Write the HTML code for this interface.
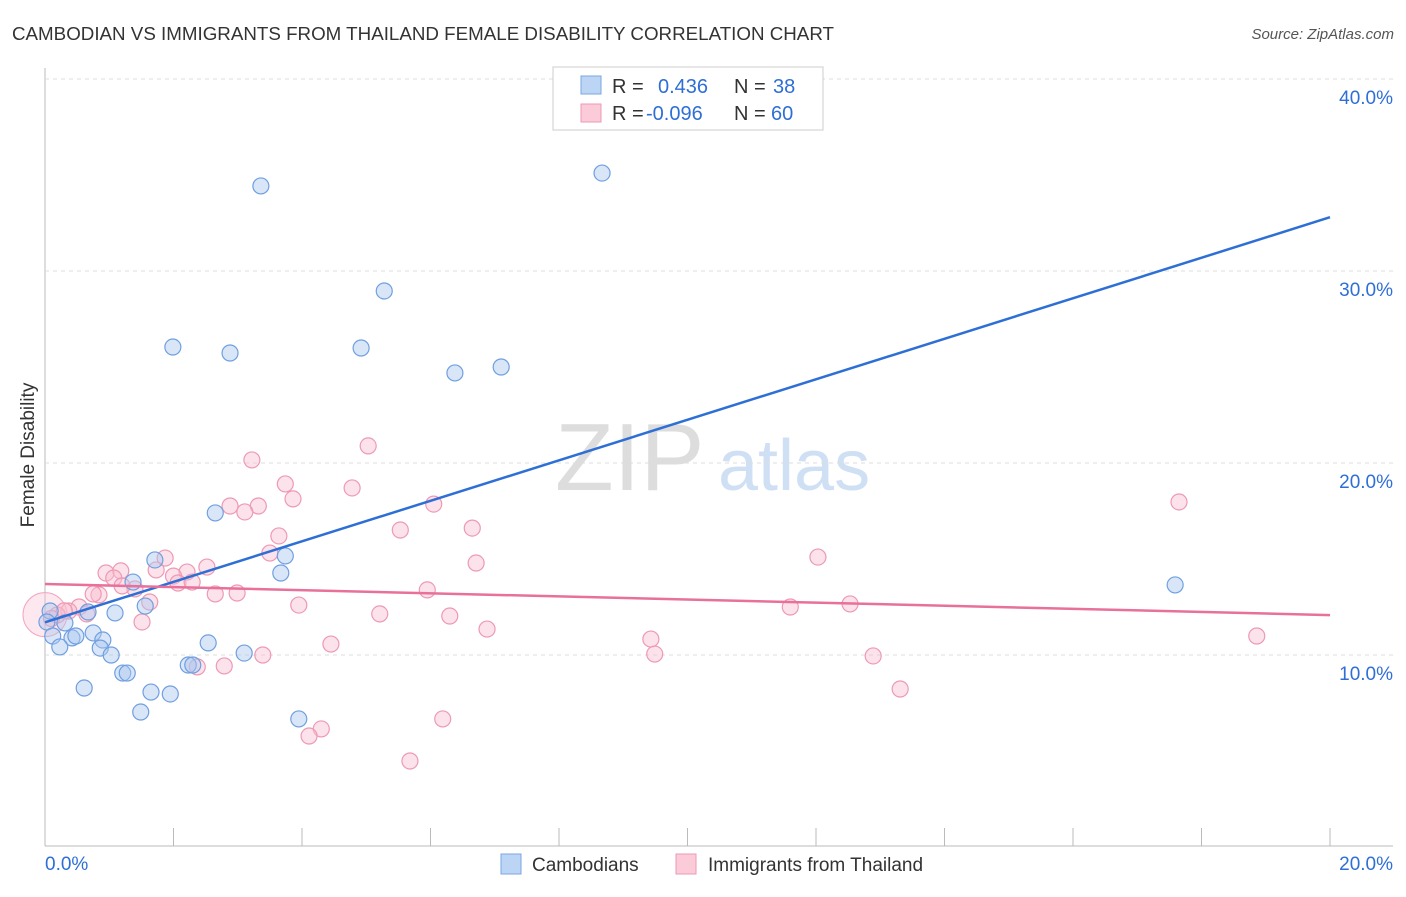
<!DOCTYPE html>
<html><head><meta charset="utf-8"><style>
body{margin:0;background:#fff;font-family:"Liberation Sans",sans-serif;}
svg text{font-family:"Liberation Sans",sans-serif;}
</style></head><body>
<svg id="chart" width="1406" height="892">
<text x="12" y="40" font-size="18" fill="#333" textLength="822" lengthAdjust="spacingAndGlyphs">CAMBODIAN VS IMMIGRANTS FROM THAILAND FEMALE DISABILITY CORRELATION CHART</text>
<text x="1394" y="39" font-size="15" fill="#555" font-style="italic" text-anchor="end">Source: ZipAtlas.com</text>
<text x="34" y="455" font-size="19" fill="#333" text-anchor="middle" transform="rotate(-90 34 455)">Female Disability</text>
<text x="555" y="490" font-size="96" fill="#ddd" font-family="Liberation Serif">ZIP</text>
<text x="718" y="490" font-size="72" fill="#d0e0f4">atlas</text>
<g id="grid"></g><g id="pts"></g><g id="lines"></g>
<g>
<rect x="553" y="67" width="270" height="63" fill="#fff" stroke="#ccc"/>
<rect x="581" y="76" width="20" height="18" fill="#bcd5f5" stroke="#7aa7e0"/>
<rect x="581" y="104" width="20" height="18" fill="#fbcbd9" stroke="#ee99b4"/>
<text x="612" y="93" font-size="20" fill="#333">R =</text>
<text x="658" y="93" font-size="20" fill="#2e6fd6">0.436</text>
<text x="734" y="93" font-size="20" fill="#333">N =</text>
<text x="773" y="93" font-size="20" fill="#2e6fd6">38</text>
<text x="612" y="120" font-size="20" fill="#333">R =</text>
<text x="646" y="120" font-size="20" fill="#2e6fd6">-0.096</text>
<text x="734" y="120" font-size="20" fill="#333">N =</text>
<text x="771" y="120" font-size="20" fill="#2e6fd6">60</text>
</g>
<g>
<rect x="501" y="854" width="20" height="20" fill="#bcd5f5" stroke="#7aa7e0"/>
<text x="532" y="871" font-size="19" fill="#333">Cambodians</text>
<rect x="676" y="854" width="20" height="20" fill="#fbcbd9" stroke="#ee99b4"/>
<text x="708" y="871" font-size="19" fill="#333">Immigrants from Thailand</text>
</g>
</svg>
<script>
const yTicks=[10,20,30,40];
const yTickLabels=["10.0%","20.0%","30.0%","40.0%"];
const xTickLabels=["0.0%","20.0%"];
const blueX=[3.36,8.67,5.28,1.99,2.88,4.92,6.38,7.10,2.65,3.74,3.67,1.71,1.37,1.56,1.09,0.67,0.08,0.03,0.31,0.12,0.75,0.42,0.48,0.90,0.23,0.86,1.03,2.54,3.10,1.21,1.28,2.23,2.30,0.61,1.65,1.95,1.49,3.95,17.59];
const blueY=[34.43,35.1,28.96,26.04,25.73,25.99,24.69,25.0,17.40,15.16,14.27,14.95,13.80,12.55,12.19,12.24,12.29,11.72,11.67,10.99,11.15,10.89,10.99,10.78,10.42,10.36,10.0,10.63,10.10,9.06,9.06,9.48,9.48,8.28,8.07,7.97,7.03,6.67,13.65];
const pinkX=[3.22,5.03,3.74,3.86,4.78,2.88,3.32,3.11,6.05,17.65,5.53,6.65,3.64,3.50,6.71,12.03,1.87,2.52,1.73,0.95,1.18,1.07,2.21,2.0,2.07,2.29,1.40,0.84,0.75,2.65,2.99,5.95,1.63,0.53,0.37,0.65,0.19,3.95,5.21,6.30,11.60,12.53,1.51,6.88,9.43,9.49,18.86,4.45,3.39,2.37,2.79,12.89,13.31,6.19,4.30,4.11,5.68,0.10,0.30,1.20];
const pinkY=[20.16,20.89,18.91,18.13,18.70,17.76,17.76,17.45,17.86,17.97,16.51,16.61,16.20,15.31,14.79,15.10,15.05,14.58,14.43,14.27,14.38,14.01,14.32,14.11,13.75,13.80,13.44,13.13,13.18,13.18,13.23,13.39,12.76,12.50,12.29,12.14,12.08,12.60,12.14,12.03,12.50,12.66,11.72,11.35,10.83,10.05,10.99,10.57,10.0,9.38,9.43,9.95,8.23,6.67,6.15,5.78,4.48,11.9,12.3,13.6];
const blueTrend=[11.7,32.8];
const pinkTrend=[13.7,12.08];
const X=v=>45+v*64.25, Y=v=>847-v*19.2;
const NS="http://www.w3.org/2000/svg";
function mk(t,a,p){const e=document.createElementNS(NS,t);for(const k in a)e.setAttribute(k,a[k]);p.appendChild(e);return e;}
const grid=document.getElementById('grid');
let ax=mk('line',{x1:45,y1:68,x2:45,y2:846,stroke:'#bbb'},grid);


let bx=mk('line',{x1:45,y1:846,x2:1393,y2:846,stroke:'#bbb'},grid);


yTicks.forEach((t,i)=>{
 const g=mk('line',{x1:45,y1:Y(t),x2:1393,y2:Y(t),stroke:'#ddd','stroke-dasharray':'4,4'},grid);
 
 
 const l=mk('text',{x:1393,y:Y(t)+25,'font-size':19,fill:'#2e6fd6','text-anchor':'end'},grid);
 l.textContent=yTickLabels[i];
 
 
});
for(let i=0;i<=10;i++){
 const t=mk('line',{x1:X(i*2),y1:828,x2:X(i*2),y2:846,stroke:'#bbb'},grid);
 
 
}
[[0,'start',45],[20,'end',1393]].forEach((d,i)=>{
 const l=mk('text',{x:d[2],y:870,'font-size':19,fill:'#2e6fd6','text-anchor':d[1]},grid);
 l.textContent=xTickLabels[i];
 
 
});
const pts=document.getElementById('pts');
const big=mk('circle',{cx:X(0),cy:Y(12.1),r:22,fill:'rgba(248,190,208,0.35)',stroke:'#f2a6bf'},pts);


pinkX.forEach((x,i)=>{
 const c=mk('circle',{cx:X(x),cy:Y(pinkY[i]),r:8,fill:'rgba(248,190,208,0.45)',stroke:'#ee99b4','stroke-width':1.2},pts);
 
 
});
blueX.forEach((x,i)=>{
 const c=mk('circle',{cx:X(x),cy:Y(blueY[i]),r:8,fill:'rgba(170,200,240,0.45)',stroke:'#6f9fe0','stroke-width':1.2},pts);
 
 
});
const lines=document.getElementById('lines');
const bl=mk('line',{x1:X(0),y1:Y(blueTrend[0]),x2:X(20),y2:Y(blueTrend[1]),stroke:'#2e6fd6','stroke-width':2.5},lines);


const pl=mk('line',{x1:X(0),y1:Y(pinkTrend[0]),x2:X(20),y2:Y(pinkTrend[1]),stroke:'#e8709a','stroke-width':2.5},lines);


</script>
</body></html>
